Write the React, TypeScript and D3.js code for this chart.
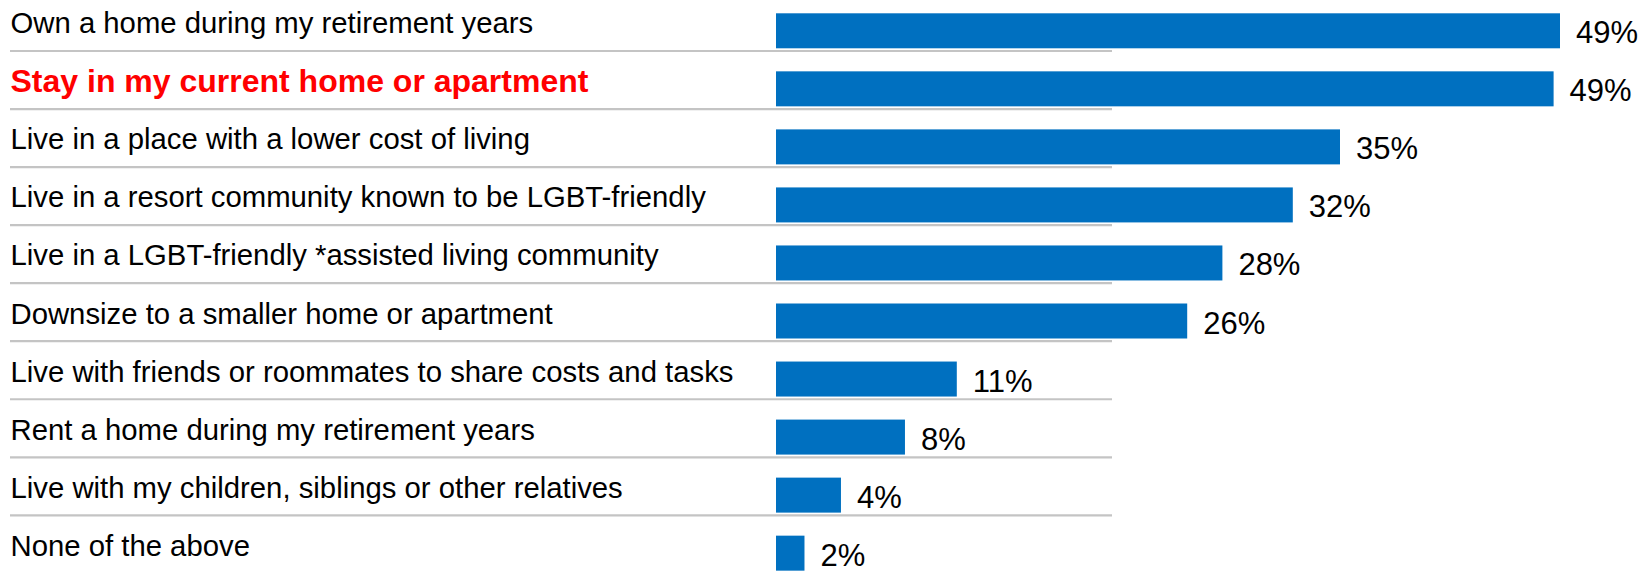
import React from "react";
import * as d3 from "d3";

const categories: string[] = [
  "Own a home during my retirement years",
  "Stay in my current home or apartment",
  "Live in a place with a lower cost of living",
  "Live in a resort community known to be LGBT-friendly",
  "Live in a LGBT-friendly *assisted living community",
  "Downsize to a smaller home or apartment",
  "Live with friends or roommates to share costs and tasks",
  "Rent a home during my retirement years",
  "Live with my children, siblings or other relatives",
  "None of the above",
];

const values: number[] = [49, 48.6, 35.25, 32.3, 27.9, 25.7, 11.3, 8.06, 4.06, 1.78];

const highlighted: string[] = ["Stay in my current home or apartment"];

const WIDTH = 1652;
const HEIGHT = 571;

export default function App() {
  const x = d3.scaleLinear().domain([0, 50]).range([776, 1576]);
  const y = d3
    .scaleBand<string>()
    .domain(categories)
    .range([1.78, 582.18])
    .paddingInner(0.397)
    .paddingOuter(0.1985);
  const bw = y.bandwidth();

  return (
    <svg
      width={WIDTH}
      height={HEIGHT}
      style={{ position: "absolute", left: 0, top: 0, background: "#fff" }}
      fontFamily="'Liberation Sans', Arial, Helvetica, sans-serif"
    >
      {categories.map((c, i) => {
        const top = y(c)!;
        const isHi = highlighted.includes(c);
        return (
          <g key={c}>
            <line
              x1={10}
              x2={1112}
              y1={top + bw + 2.7}
              y2={top + bw + 2.7}
              stroke="#c4c4c4"
              strokeWidth={2.2}
            />
            <text
              x={10.5}
              y={top + (isHi ? 20.7 : 20)}
              fontSize={isHi ? 32 : 29.3}
              fontWeight={isHi ? "bold" : "normal"}
              fill={isHi ? "#ff0000" : "#000"}
            >
              {c}
            </text>
            <rect
              x={x(0)}
              y={top}
              width={x(values[i]) - x(0)}
              height={bw}
              fill="#0070c0"
            />
            <text x={x(values[i]) + 16} y={top + 30} fontSize={31} fill="#000">
              {`${Math.round(values[i])}%`}
            </text>
          </g>
        );
      })}
    </svg>
  );
}
